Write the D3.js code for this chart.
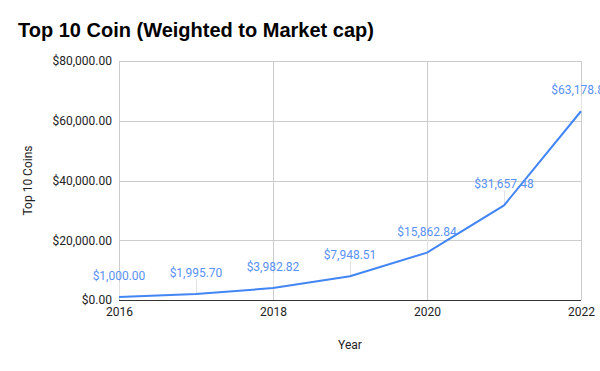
<html>
<head>
<style>
  body { margin: 0; background: #fff; }
  text { font-family: Roboto, Arial, sans-serif; }
</style>
</head>
<body>
<script src="https://d3js.org/d3.v7.min.js"></script>
<script>

    var years = [2016, 2017, 2018, 2019, 2020, 2021, 2022];
    var values = [1000.00, 1995.70, 3982.82, 7948.51, 15862.84, 31657.48, 63178.80];
    var yTicks = [0, 20000, 40000, 60000, 80000];
    var xTicks = [2016, 2018, 2020, 2022];

    var width = 600, height = 371;
    var plotLeft = 119, plotRight = 581, plotTop = 61, plotBottom = 300;

    var x = d3.scaleLinear().domain([2016, 2022]).range([plotLeft, plotRight]);
    var y = d3.scaleLinear().domain([0, 80000]).range([plotBottom, plotTop]);

    var money = d3.format("$,.2f");

    var svg = d3.select("body").append("svg")
        .attr("width", width)
        .attr("height", height);

    // title
    svg.append("text")
        .attr("x", 18)
        .attr("y", 37)
        .style("font-family", "'Liberation Sans', Arial, sans-serif")
        .style("font-weight", "bold")
        .style("font-size", "20px")
        .style("fill", "#000")
        .text("Top 10 Coin (Weighted to Market cap)");

    // horizontal gridlines
    svg.append("g").selectAll("line").data(yTicks.slice(1)).enter().append("line")
        .attr("x1", plotLeft).attr("x2", plotRight)
        .attr("y1", function(d) { return Math.round(y(d)) + 0.5; })
        .attr("y2", function(d) { return Math.round(y(d)) + 0.5; })
        .style("stroke", "#cccccc");

    // vertical gridlines
    svg.append("g").selectAll("line").data(xTicks).enter().append("line")
        .attr("x1", function(d) { return Math.round(x(d)) + 0.5; })
        .attr("x2", function(d) { return Math.round(x(d)) + 0.5; })
        .attr("y1", plotTop).attr("y2", plotBottom)
        .style("stroke", "#cccccc");

    // y axis labels
    var yAxis = svg.append("g")
        .attr("transform", "translate(" + plotLeft + ",0)")
        .call(d3.axisLeft(y).tickValues(yTicks).tickFormat(money).tickSize(0).tickPadding(7));
    yAxis.select(".domain").remove();
    yAxis.selectAll("text")
        .style("font-family", "Roboto, Arial, sans-serif")
        .style("font-size", "12px")
        .style("fill", "#222");

    // x axis
    var xAxis = svg.append("g")
        .attr("transform", "translate(0," + plotBottom + ")")
        .call(d3.axisBottom(x).tickValues(xTicks).tickFormat(d3.format("d")).tickSize(0).tickPadding(7));
    xAxis.select(".domain").remove();
    xAxis.selectAll("text")
        .style("font-family", "Roboto, Arial, sans-serif")
        .style("font-size", "12px")
        .style("fill", "#222");

    // baseline
    svg.append("line")
        .attr("x1", plotLeft).attr("x2", plotRight)
        .attr("y1", y(0) + 0.5).attr("y2", y(0) + 0.5)
        .style("stroke", "#333")
        .style("stroke-width", 1);

    // annotation stems
    svg.append("g").selectAll("line").data(years).enter().append("line")
        .attr("x1", function(d) { return Math.round(x(d)) + 0.5; })
        .attr("x2", function(d) { return Math.round(x(d)) + 0.5; })
        .attr("y1", function(d, i) { return y(values[i]); })
        .attr("y2", function(d, i) { return y(values[i]) - 15; })
        .style("stroke", "#e3e3e3");

    // line
    var line = d3.line()
        .x(function(d, i) { return x(years[i]); })
        .y(function(d) { return y(d); });

    svg.append("path")
        .datum(values)
        .attr("d", line)
        .style("fill", "none")
        .style("stroke", "#4285f4")
        .style("stroke-width", 2);

    // data labels
    svg.append("g").selectAll("text").data(values).enter().append("text")
        .attr("x", function(d, i) { return x(years[i]); })
        .attr("y", function(d) { return y(d) - 17; })
        .attr("text-anchor", "middle")
        .style("font-size", "12px")
        .style("fill", "#5a91f5")
        .text(function(d) { return money(d); });

    // axis titles
    svg.append("text")
        .attr("transform", "translate(32," + ((plotTop + plotBottom) / 2) + ") rotate(-90)")
        .attr("text-anchor", "middle")
        .style("font-size", "12px")
        .style("fill", "#222")
        .text("Top 10 Coins");

    svg.append("text")
        .attr("x", (plotLeft + plotRight) / 2)
        .attr("y", 349)
        .attr("text-anchor", "middle")
        .style("font-size", "12px")
        .style("fill", "#222")
        .text("Year");

</script>
</body>
</html>
